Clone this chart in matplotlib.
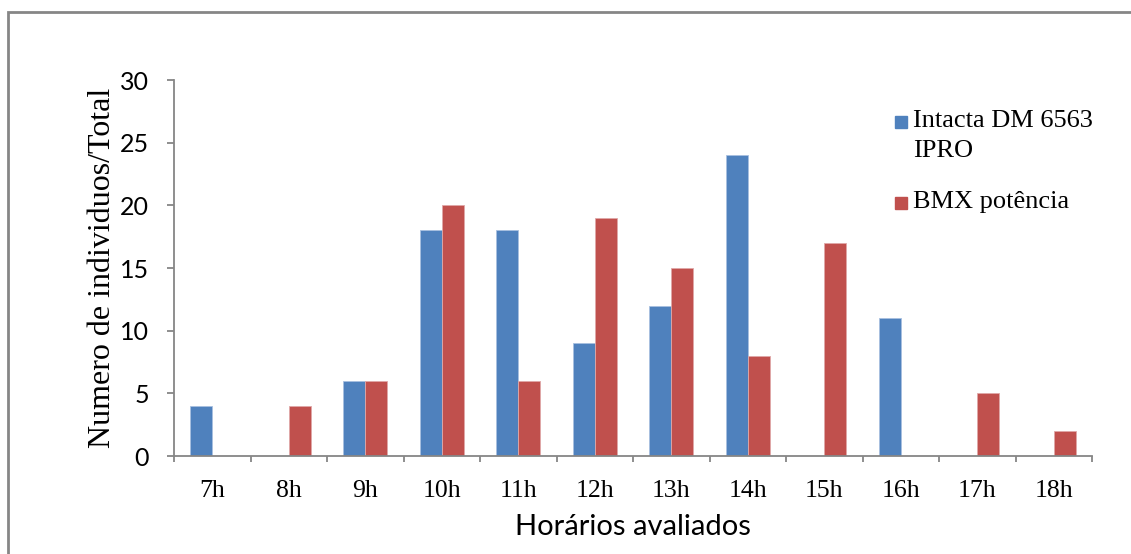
import matplotlib
matplotlib.use("Agg")
import matplotlib.pyplot as plt
import numpy as np
from matplotlib.patches import Rectangle

categories = ["7h", "8h", "9h", "10h", "11h", "12h", "13h", "14h", "15h", "16h", "17h", "18h"]
intacta = [4, 0, 6, 18, 18, 9, 12, 24, 0, 11, 0, 0]
bmx = [0, 4, 6, 20, 6, 19, 15, 8, 17, 0, 5, 2]
series_names = ["Intacta DM 6563\nIPRO", "BMX potência"]
colors = ["#4F81BD", "#C0504D"]
grey = "#868686"

W, H = 1131, 554
fig = plt.figure(figsize=(W / 100, H / 100), dpi=100)
ax = fig.add_axes([174 / W, 98 / H, 918 / W, 376 / H])

# outer chart border
fig.patches.append(Rectangle((8 / W, -0.05), 1.2, 0.05 + (H - 12) / H,
                             transform=fig.transFigure, fill=False,
                             edgecolor=grey, linewidth=2))

x = np.arange(len(categories))
w = 1 / 3.5
ax.bar(x - w / 2, intacta, w, color=colors[0], edgecolor="#a8c0e0", linewidth=0.6)
ax.bar(x + w / 2, bmx, w, color=colors[1], edgecolor="#e0a8a8", linewidth=0.6)

ax.set_xlim(-0.5, len(categories) - 0.5)
ax.set_ylim(0, 30)
ax.set_yticks(range(0, 31, 5))
ax.set_xticks(x)
ax.set_xticklabels(categories, fontfamily="Liberation Serif", fontsize=18.5)
ax.set_xticks(np.arange(-0.5, len(categories)), minor=True)
ax.tick_params(axis="x", which="major", length=0, pad=17)
ax.tick_params(axis="x", which="minor", length=4.5, color=grey, width=1.3)
ax.tick_params(axis="y", length=5, color=grey, width=1.3, pad=13)
for lab in ax.get_yticklabels():
    lab.set_fontfamily("Lato")
    lab.set_fontsize(18)

for s in ["top", "right"]:
    ax.spines[s].set_visible(False)
for s in ["left", "bottom"]:
    ax.spines[s].set_color(grey)
    ax.spines[s].set_linewidth(1.3)

ax.set_ylabel("Numero de individuos/Total", fontfamily="Liberation Serif",
              fontsize=23, labelpad=2)
ax.set_xlabel("Horários avaliados", fontfamily="Lato", fontsize=21, labelpad=9)

# legend: square key next to the first line of each entry
key_px = 12
legend_rows = [(122, series_names[0], colors[0]), (203, series_names[1], colors[1])]
for yc, name, col in legend_rows:
    fig.patches.append(Rectangle((895 / W, 1 - (yc + key_px / 2) / H),
                                 key_px / W, key_px / H,
                                 transform=fig.transFigure, color=col))
    fig.text(913 / W, 1 - (yc - 12) / H, name, transform=fig.transFigure,
             fontfamily="Liberation Serif", fontsize=19, va="top", ha="left",
             linespacing=1.5)

fig.savefig("out.png", dpi=100, facecolor="white")
